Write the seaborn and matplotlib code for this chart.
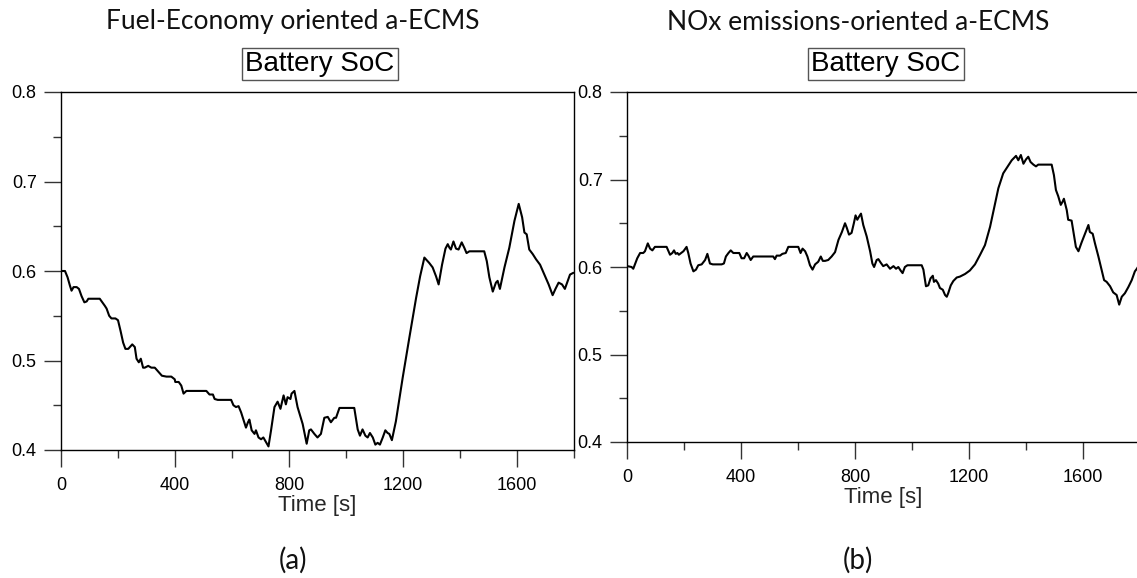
import numpy as np
import pandas as pd
import matplotlib
matplotlib.use("Agg")
import matplotlib.pyplot as plt
import seaborn as sns
from matplotlib.ticker import MultipleLocator

sns.set_theme(style="ticks")
plt.rcParams["font.family"] = ["Liberation Sans", "DejaVu Sans"]

# ---------------- data ----------------
time_a = [0, 14, 23, 31, 37, 44, 55, 63, 72, 82,
          90, 96, 136, 145, 154, 160, 169, 177, 191, 200,
          209, 218, 226, 236, 250, 259, 265, 273, 280, 288,
          294, 306, 317, 329, 343, 354, 370, 387, 399, 401,
          413, 422, 430, 440, 510, 521, 533, 539, 550, 597,
          605, 614, 623, 632, 641, 649, 656, 661, 669, 679,
          684, 693, 702, 710, 719, 728, 737, 749, 760, 770,
          781, 789, 795, 805, 809, 819, 830, 848, 862, 871,
          877, 889, 900, 912, 924, 936, 947, 959, 965, 977,
          1029, 1041, 1049, 1058, 1068, 1076, 1084, 1094, 1103, 1111,
          1119, 1129, 1138, 1146, 1152, 1161, 1175, 1199, 1222, 1246,
          1260, 1275, 1292, 1304, 1316, 1325, 1337, 1349, 1357, 1363,
          1368, 1377, 1386, 1395, 1406, 1415, 1423, 1433, 1442, 1485,
          1494, 1503, 1515, 1526, 1532, 1540, 1556, 1573, 1591, 1606,
          1618, 1626, 1634, 1643, 1655, 1667, 1681, 1696, 1711, 1725,
          1735, 1746, 1758, 1768, 1778, 1786, 1798]
soc_a = [0.600, 0.600, 0.593, 0.584, 0.578, 0.582, 0.582, 0.580, 0.572, 0.565,
         0.566, 0.569, 0.569, 0.565, 0.561, 0.558, 0.550, 0.547, 0.547, 0.545,
         0.533, 0.520, 0.513, 0.513, 0.518, 0.515, 0.502, 0.498, 0.502, 0.492,
         0.492, 0.494, 0.492, 0.492, 0.487, 0.483, 0.482, 0.482, 0.479, 0.476,
         0.476, 0.472, 0.463, 0.466, 0.466, 0.462, 0.462, 0.457, 0.456, 0.456,
         0.450, 0.448, 0.449, 0.442, 0.433, 0.425, 0.431, 0.434, 0.422, 0.418,
         0.422, 0.414, 0.412, 0.414, 0.409, 0.404, 0.422, 0.448, 0.454, 0.446,
         0.461, 0.451, 0.459, 0.457, 0.463, 0.466, 0.448, 0.429, 0.407, 0.422,
         0.423, 0.418, 0.414, 0.418, 0.436, 0.437, 0.431, 0.436, 0.436, 0.447,
         0.447, 0.423, 0.416, 0.423, 0.416, 0.414, 0.419, 0.414, 0.406, 0.408,
         0.406, 0.414, 0.422, 0.419, 0.418, 0.411, 0.432, 0.481, 0.525, 0.570,
         0.594, 0.615, 0.609, 0.604, 0.594, 0.585, 0.607, 0.625, 0.630, 0.626,
         0.624, 0.633, 0.625, 0.624, 0.632, 0.626, 0.620, 0.622, 0.622, 0.622,
         0.611, 0.593, 0.577, 0.587, 0.589, 0.580, 0.604, 0.626, 0.656, 0.675,
         0.660, 0.643, 0.641, 0.624, 0.619, 0.613, 0.607, 0.596, 0.585, 0.573,
         0.580, 0.587, 0.585, 0.580, 0.589, 0.596, 0.598]

time_b = [1, 16, 22, 28, 36, 46, 57, 63, 73, 81,
          89, 98, 139, 151, 159, 165, 171, 177, 182, 198,
          209, 215, 223, 233, 242, 250, 262, 274, 282, 291,
          301, 315, 332, 340, 347, 356, 364, 373, 394, 402,
          411, 420, 426, 434, 443, 513, 519, 525, 537, 545,
          557, 566, 601, 609, 616, 625, 633, 642, 651, 660,
          671, 680, 687, 695, 706, 718, 730, 742, 754, 765,
          771, 779, 788, 796, 802, 808, 815, 821, 829, 841,
          853, 861, 867, 876, 882,
          890, 899, 911, 923, 935, 944, 952, 960, 967, 975,
          984, 1034, 1040, 1049, 1057, 1065, 1073, 1077, 1084, 1092,
          1098, 1108, 1116, 1122, 1127, 1136, 1145, 1157, 1168, 1186,
          1203, 1221, 1239, 1256, 1274, 1288, 1303, 1320, 1334, 1350,
          1365, 1373, 1382, 1391, 1400, 1408, 1416, 1426, 1435, 1443,
          1449, 1490, 1498, 1505, 1513, 1522, 1529, 1533, 1543, 1548,
          1560, 1568, 1575, 1584, 1595, 1607, 1619, 1624, 1634, 1642,
          1654, 1665, 1674, 1683, 1695, 1706, 1718, 1727, 1736, 1747,
          1759, 1771, 1782, 1789, 1800]
soc_b = [0.601, 0.600, 0.598, 0.603, 0.610, 0.616, 0.616, 0.618, 0.627, 0.621,
         0.619, 0.623, 0.623, 0.614, 0.616, 0.619, 0.615, 0.616, 0.614, 0.618,
         0.623, 0.616, 0.604, 0.595, 0.597, 0.602, 0.603, 0.608, 0.615, 0.604,
         0.603, 0.603, 0.603, 0.604, 0.612, 0.616, 0.619, 0.616, 0.616, 0.610,
         0.610, 0.616, 0.613, 0.608, 0.612, 0.612, 0.609, 0.613, 0.613, 0.615,
         0.616, 0.623, 0.623, 0.616, 0.621, 0.618, 0.612, 0.602, 0.597, 0.603,
         0.606, 0.612, 0.607, 0.607, 0.608, 0.612, 0.617, 0.631, 0.640, 0.650,
         0.645, 0.637, 0.639, 0.650, 0.659, 0.654, 0.658, 0.661, 0.648, 0.635,
         0.618, 0.604, 0.600, 0.608, 0.609,
         0.605, 0.601, 0.603, 0.598, 0.601, 0.598, 0.600, 0.596, 0.593, 0.600,
         0.602, 0.602, 0.597, 0.578, 0.579, 0.587, 0.590, 0.583, 0.585, 0.581,
         0.576, 0.574, 0.568, 0.566, 0.570, 0.579, 0.584, 0.588, 0.589, 0.592,
         0.596, 0.603, 0.614, 0.625, 0.646, 0.667, 0.690, 0.707, 0.714, 0.722,
         0.727, 0.722, 0.728, 0.718, 0.723, 0.726, 0.720, 0.717, 0.715, 0.717,
         0.717, 0.717, 0.705, 0.688, 0.681, 0.671, 0.675, 0.678, 0.665, 0.654,
         0.653, 0.637, 0.623, 0.618, 0.628, 0.638, 0.648, 0.640, 0.638, 0.627,
         0.612, 0.597, 0.585, 0.583, 0.578, 0.571, 0.568, 0.557, 0.566, 0.570,
         0.577, 0.585, 0.595, 0.598, 0.604]

x_ticks = [0, 400, 800, 1200, 1600]
x_tick_labels = ["0", "400", "800", "1200", "1600"]
y_ticks = [0.4, 0.5, 0.6, 0.7, 0.8]
y_tick_labels = ["0.4", "0.5", "0.6", "0.7", "0.8"]
panel_titles = ["Fuel-Economy oriented a-ECMS", "NOx emissions-oriented a-ECMS"]
panel_tags = ["(a)", "(b)"]
box_label = "Battery SoC"
x_label = "Time [s]"

# ---------------- layout ----------------
W, H = 1137, 578
fig = plt.figure(figsize=(W / 100, H / 100), dpi=100)
fig.patch.set_facecolor("white")


def rect(x0, y0, x1, y1):
    return [x0 / W, 1 - y1 / H, (x1 - x0) / W, (y1 - y0) / H]


ax1 = fig.add_axes(rect(61, 92, 574, 450))
ax2 = fig.add_axes(rect(627, 92, 1140, 442))

df_a = pd.DataFrame({"t": time_a, "soc": soc_a})
df_b = pd.DataFrame({"t": time_b, "soc": soc_b})

title_font = ["Lato", "DejaVu Sans"]

for ax, df, title, tag, cx in [
    (ax1, df_a, panel_titles[0], panel_tags[0], 293),
    (ax2, df_b, panel_titles[1], panel_tags[1], 858),
]:
    sns.lineplot(data=df, x="t", y="soc", ax=ax, color="black", lw=1.5)
    ax.set_facecolor("white")
    ax.set_xlim(0, 1800)
    ax.set_ylim(0.4, 0.8)
    ax.set_xticks(x_ticks)
    ax.set_xticklabels(x_tick_labels)
    ax.set_yticks(y_ticks)
    ax.set_yticklabels(y_tick_labels)
    ax.xaxis.set_minor_locator(MultipleLocator(200))
    ax.yaxis.set_minor_locator(MultipleLocator(0.05))
    ax.tick_params(which="major", direction="out", length=12.5, width=1,
                   color="#333333", labelsize=13, labelcolor="black")
    ax.tick_params(axis="x", which="major", pad=7)
    ax.tick_params(axis="y", which="major", pad=5)
    ax.tick_params(which="minor", direction="out", length=6, width=1,
                   color="#333333")
    ax.tick_params(top=False, right=False, which="both")
    for s in ax.spines.values():
        s.set_color("black")
        s.set_linewidth(1)
        s.set_visible(True)
    ax.set_xlabel(x_label, fontsize=16, labelpad=1)
    ax.set_ylabel("")
    ax.grid(False)

    fig.text(cx / W, 1 - 22 / H, title, ha="center", va="center",
             fontsize=19, family=title_font, color="#111111")
    fig.text(cx / W, 1 - 560 / H, tag, ha="center", va="center",
             fontsize=20, family=title_font, color="#111111")

ax1.text(0.505, 1 + 28 / 358, box_label, transform=ax1.transAxes,
         ha="center", va="center", fontsize=20, color="black",
         bbox=dict(boxstyle="square,pad=0.12", fc="white", ec="#555555", lw=1))
ax2.text(0.505, 1 + 28 / 350, box_label, transform=ax2.transAxes,
         ha="center", va="center", fontsize=20, color="black",
         bbox=dict(boxstyle="square,pad=0.12", fc="white", ec="#555555", lw=1))

fig.savefig("out.png", dpi=100, facecolor="white")
